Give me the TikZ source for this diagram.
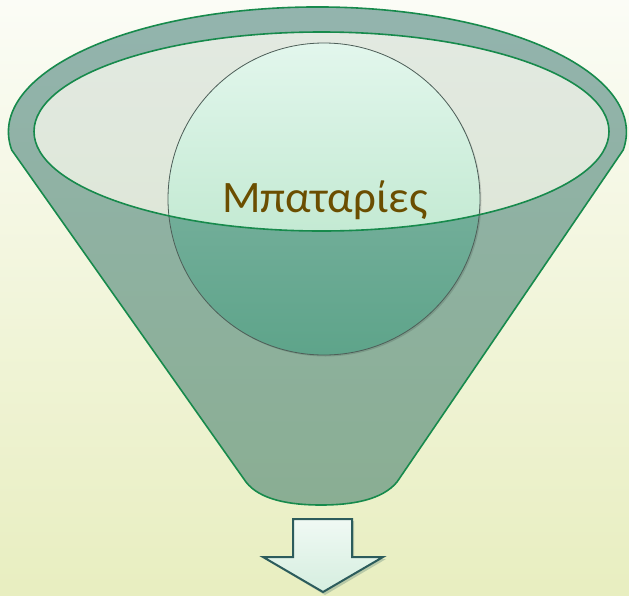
\documentclass[tikz,border=0pt]{standalone}
\usepackage{fontspec}
\newfontfamily\carlito{Carlito}
\definecolor{bgtop}{HTML}{FBFCF6}
\definecolor{bgbot}{HTML}{E8EEC0}
\definecolor{funtop}{HTML}{93B4AE}
\definecolor{funbot}{HTML}{8AAE93}
\definecolor{funline}{HTML}{178A4C}
\definecolor{rimtop}{HTML}{E2E9E1}
\definecolor{rimbot}{HTML}{DEE7D8}
\definecolor{balltop}{HTML}{E4F7EE}
\definecolor{ballmid}{HTML}{C4EAD3}
\definecolor{balllow}{HTML}{75AD9C}
\definecolor{ballbot}{HTML}{5EA48A}
\definecolor{ballline}{HTML}{4E5E58}
\definecolor{txt}{HTML}{6B4E00}
\definecolor{arrline}{HTML}{2C5C5C}
\definecolor{arrtop}{HTML}{F0F9F4}
\definecolor{arrbot}{HTML}{D5EEDF}
\tikzset{
  funnelline/.style={draw=funline, line width=1.6pt},
  balledge/.style={draw=ballline, line width=0.8pt},
  arrowbox/.style={draw=arrline, line width=2pt, line join=miter, top color=arrtop, bottom color=arrbot},
}
\begin{document}
\begin{tikzpicture}[x=1pt,y=1pt]
\useasboundingbox (0,0) rectangle (629,-595);
% background
\fill[top color=bgtop, bottom color=bgbot] (0,0) rectangle (629,-595);
% funnel body
\path[funnelline, top color=funtop, bottom color=funbot]
  (11.7,-150) arc[start angle=188.3, end angle=-8.3, x radius=309pt, y radius=125pt]
  -- (397,-482) .. controls (382,-500) and (352,-505) .. (321,-505)
  .. controls (290,-505) and (260,-500) .. (246,-482) -- cycle;
% inner rim ellipse
\path[top color=rimtop, bottom color=rimbot] (321.5,-131.5) ellipse[x radius=287.5pt, y radius=99.5pt];
% ball
\fill[black, opacity=0.12] (325.5,-200.5) circle[radius=156pt];
\path[top color=balllow!85!white, bottom color=ballbot] (324,-199) circle[radius=156pt];
\begin{scope}
  \clip (324,-199) circle[radius=156pt];
  \path[top color=balltop, bottom color=ballmid] (321.5,-131.5) ellipse[x radius=287.5pt, y radius=99.5pt];
\end{scope}
\draw[balledge] (324,-199) circle[radius=156pt];
% rim outline
\draw[funnelline] (321.5,-131.5) ellipse[x radius=287.5pt, y radius=99.5pt];
% label
\node[anchor=base, text=txt, font=\carlito\fontsize{45}{50}\selectfont, inner sep=0pt] (label) at (325,-212) {Μπαταρίες};
% down arrow
\fill[arrline, opacity=0.25] (295,-521) -- (354,-521) -- (354,-559) -- (386,-559) -- (325,-595) -- (265,-559) -- (295,-559) -- cycle;
\path[arrowbox] (293,-519) -- (352,-519) -- (352,-557) -- (383,-557) -- (323,-592) -- (263,-557) -- (293,-557) -- cycle;
\end{tikzpicture}
\end{document}
